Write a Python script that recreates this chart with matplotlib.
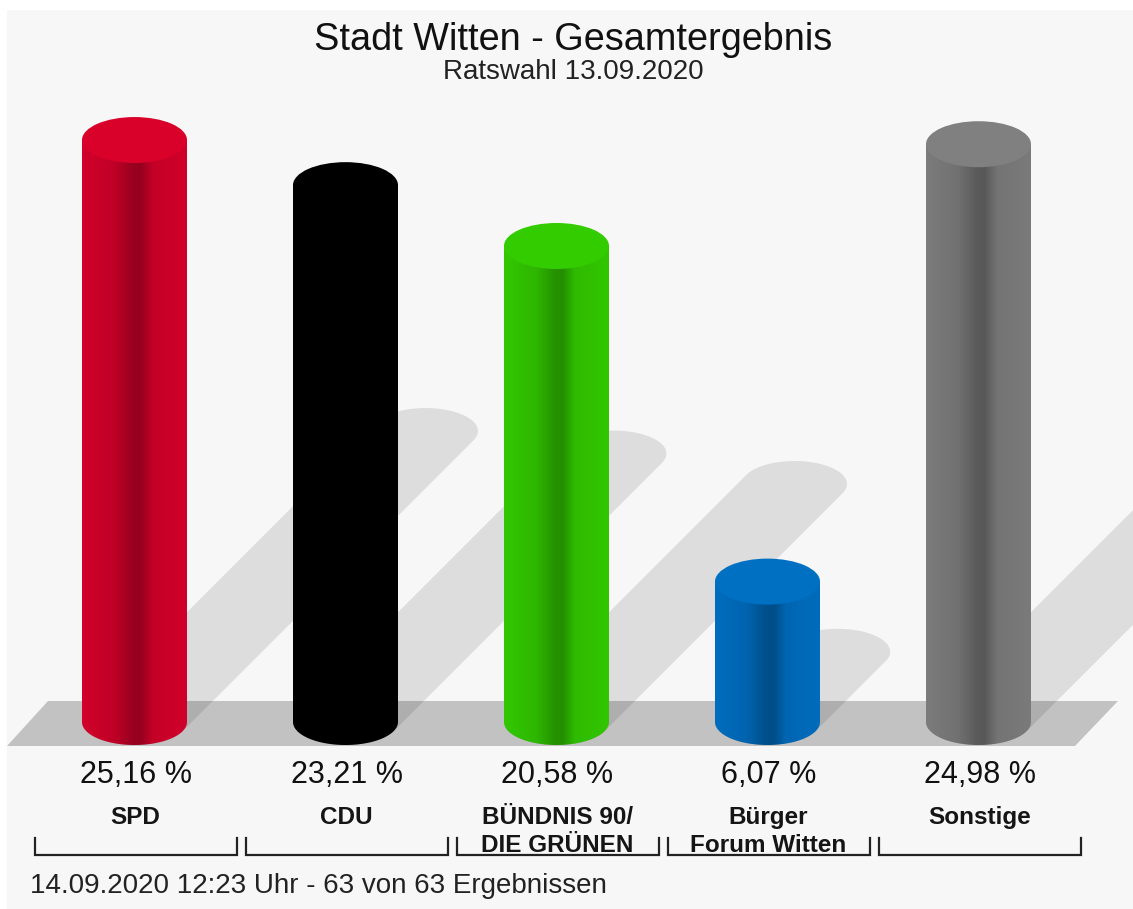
import numpy as np
import matplotlib
matplotlib.use("Agg")
import matplotlib.pyplot as plt
from matplotlib.patches import Ellipse, PathPatch, Polygon
from matplotlib.path import Path
from matplotlib.colors import to_rgb

plt.rcParams['font.family'] = ['Liberation Sans', 'DejaVu Sans']

# data
parties = ["SPD", "CDU", "BÜNDNIS 90/\nDIE GRÜNEN", "Bürger\nForum Witten", "Sonstige"]
shares = [25.16, 23.21, 20.58, 6.07, 24.98]
share_labels = ["25,16 %", "23,21 %", "20,58 %", "6,07 %", "24,98 %"]
colors = ["#d6002b", "#000000", "#33cc00", "#006fc2", "#7e7e7e"]
tops = ["#d9002a", "#000000", "#33cc00", "#0070c3", "#808080"]

title = "Stadt Witten - Gesamtergebnis"
subtitle = "Ratswahl 13.09.2020"
footer = "14.09.2020 12:23 Uhr - 63 von 63 Ergebnissen"

W, H = 1133, 909
# pixel geometry of the drawing
X0, XSTEP = 134.5, 211.0      # centre of first bar, distance between bars
BASE, PXPCT = 722.0, 23.13    # pixel row of value 0, pixels per percent


def xd(px):
    return (px - X0) / XSTEP


def yd(py):
    return (BASE - py) / PXPCT


fig = plt.figure(figsize=(W / 100, H / 100), dpi=100)
fig.patch.set_facecolor("white")
ax = fig.add_axes([7 / W, 0, (W - 7) / W, (H - 10) / H])
ax.set_facecolor("#f7f7f7")
ax.set_xlim(xd(7), xd(W))
ax.set_ylim(yd(H), yd(10))
ax.axis("off")
ax.add_patch(plt.Rectangle((xd(7), yd(H)), xd(W) - xd(7), yd(10) - yd(H),
                           facecolor="#f7f7f7", edgecolor="none", zorder=0))

a = 52.5 / XSTEP   # half width of a cylinder
b = 23.0 / PXPCT   # half height of the ellipses

# floor
floor = Polygon([(xd(7), yd(746)), (xd(1075), yd(746)),
                 (xd(1118), yd(701)), (xd(48), yd(701))],
                closed=True, facecolor="black", alpha=0.21, edgecolor="none", zorder=1)
ax.add_patch(floor)


def hull(pts):
    pts = sorted(map(tuple, pts))
    def half(seq):
        out = []
        for p in seq:
            while len(out) >= 2 and ((out[-1][0] - out[-2][0]) * (p[1] - out[-2][1])
                                     - (out[-1][1] - out[-2][1]) * (p[0] - out[-2][0])) <= 0:
                out.pop()
            out.append(p)
        return out
    lower = half(pts)
    upper = half(pts[::-1])
    return lower[:-1] + upper[:-1]


t = np.linspace(0, 2 * np.pi, 120)
prof_t = [0, 0.3, 0.48, 0.56, 0.68, 1.0]
prof_f = [0.98, 0.9, 0.72, 0.70, 0.92, 0.97]
grad = np.interp(np.linspace(0, 1, 200), prof_t, prof_f)

for i, (v, c, tc) in enumerate(zip(shares, colors, tops)):
    # shadow, thrown up and to the right
    sx = 0.5 * v * PXPCT / XSTEP
    sy = 0.5 * v
    e1 = np.column_stack([i + a * np.cos(t), b * np.sin(t)])
    e2 = np.column_stack([i + sx + a * np.cos(t), sy + b * np.sin(t)])
    sh = Polygon(hull(np.vstack([e1, e2])), closed=True, facecolor="black",
                 alpha=0.1, edgecolor="none", zorder=2)
    ax.add_patch(sh)

    # body with horizontal shading
    bt = np.linspace(np.pi, 2 * np.pi, 60)
    verts = [(i - a, v), (i - a, 0)] + [(i + a * np.cos(s), b * np.sin(s)) for s in bt] + \
            [(i + a, v), (i - a, v)]
    body = PathPatch(Path(verts, closed=True), facecolor="none", edgecolor="none", zorder=3)
    ax.add_patch(body)
    rgb = np.array(to_rgb(c))
    img = (grad[:, None] * rgb[None, :])[None, :, :]
    im = ax.imshow(img, extent=(i - a, i + a, -b, v), aspect="auto",
                   origin="lower", zorder=3, interpolation="bilinear")
    im.set_clip_path(body)
    ax.add_patch(Ellipse((i, v), 2 * a, 2 * b, facecolor=tc, edgecolor="none", zorder=4))

    # labels
    ax.text(i + 0.005, yd(775), share_labels[i], ha="center", va="center",
            fontsize=22, color="#111111", zorder=5)
    ax.text(i + 0.005, yd(806), parties[i], ha="center", va="top", fontsize=17.5,
            fontweight="bold", color="#151515", linespacing=1.28, zorder=5)
    # bracket below each party
    left, right = 35 + XSTEP * i, 237 + XSTEP * i
    ax.plot([xd(left), xd(left), xd(right), xd(right)],
            [yd(838), yd(855), yd(855), yd(838)],
            color="#222222", lw=1.6, solid_joinstyle="miter", zorder=5)

ax.text(xd(573.5), yd(50), title, ha="center", va="baseline", fontsize=27.3,
        color="#111111", zorder=5)
ax.text(xd(573), yd(79), subtitle, ha="center", va="baseline", fontsize=20,
        color="#222222", zorder=5)
ax.text(xd(30), yd(893), footer, ha="left", va="baseline", fontsize=20,
        color="#222222", zorder=5)

fig.savefig("out.png", dpi=100, facecolor=fig.get_facecolor())
